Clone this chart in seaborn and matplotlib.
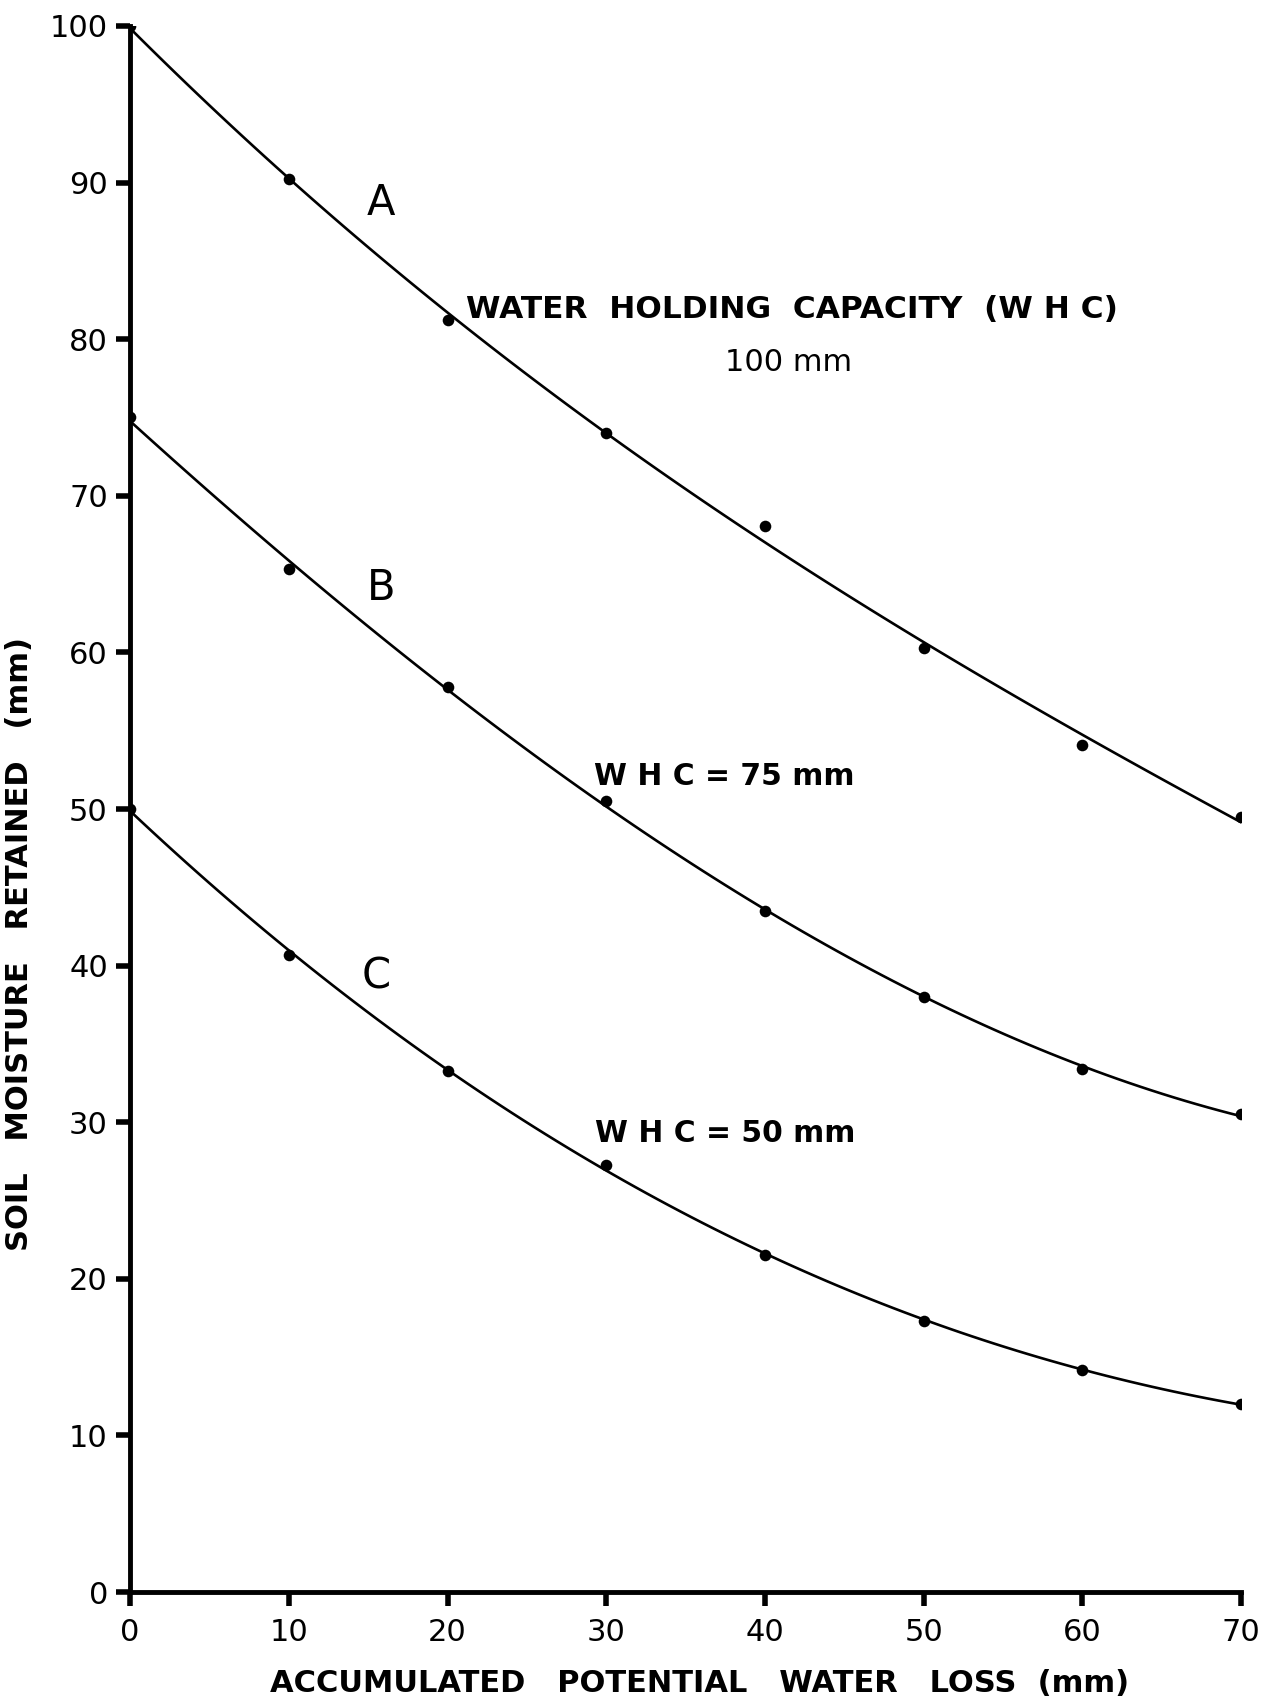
import numpy as np
import pandas as pd
import matplotlib
matplotlib.use("Agg")
import matplotlib.pyplot as plt
import seaborn as sns

# Accumulated potential water loss (mm)
apwl = [0, 10, 20, 30, 40, 50, 60, 70]

# Soil moisture retained (mm) for three water holding capacities
whc_100 = [100.0, 90.2, 81.2, 74.0, 68.1, 60.3, 54.1, 49.5]
whc_75 = [75.0, 65.3, 57.8, 50.5, 43.5, 38.0, 33.4, 30.5]
whc_50 = [50.0, 40.7, 33.3, 27.3, 21.5, 17.3, 14.2, 12.0]

curve_names = ["A", "B", "C"]
x_ticks = [0, 10, 20, 30, 40, 50, 60, 70]
y_ticks = [0, 10, 20, 30, 40, 50, 60, 70, 80, 90, 100]

df = pd.DataFrame({
    "loss": apwl * 3,
    "moisture": whc_100 + whc_75 + whc_50,
    "curve": [n for n in curve_names for _ in apwl],
})

sns.set_style("ticks")
plt.rcParams["font.family"] = ["DejaVu Sans"]
plt.rcParams["text.color"] = "black"
plt.rcParams["xtick.color"] = "black"
plt.rcParams["ytick.color"] = "black"
plt.rcParams["axes.labelcolor"] = "black"

fig = plt.figure(figsize=(12.76, 16.98), dpi=100)
ax = fig.add_axes([0.102, 0.0624, 0.8706, 0.9223])

for name in curve_names:
    sub = df[df["curve"] == name]
    sns.regplot(data=sub, x="loss", y="moisture", order=3, ci=None, ax=ax,
                scatter_kws=dict(s=70, color="black", alpha=1, linewidths=0,
                                 zorder=3),
                line_kws=dict(color="black", lw=1.9))

ax.set_xlim(0, 70)
ax.set_ylim(0, 100)
ax.set_xticks(x_ticks)
ax.set_yticks(y_ticks)
ax.set_xticklabels([str(v) for v in x_ticks], fontsize=22)
ax.set_yticklabels([str(v) for v in y_ticks], fontsize=22)
ax.tick_params(axis="both", which="major", length=10, width=4, color="black",
               direction="out", pad=6)
ax.tick_params(axis="x", pad=9)

for side in ["top", "right"]:
    ax.spines[side].set_visible(False)
for side in ["left", "bottom"]:
    ax.spines[side].set_linewidth(3.5)
    ax.spines[side].set_color("black")

ax.set_xlabel("ACCUMULATED   POTENTIAL   WATER   LOSS  (mm)", fontsize=22,
              fontweight="bold", va="top")
ax.set_ylabel("SOIL   MOISTURE   RETAINED   (mm)", fontsize=22,
              fontweight="bold", va="bottom")
ax.xaxis.set_label_coords(0.513, -0.049)
ax.yaxis.set_label_coords(-0.0865, 0.414)

# Curve labels
ax.text(15.8, 88.7, "A", fontsize=30, ha="center", va="center")
ax.text(15.8, 64.1, "B", fontsize=30, ha="center", va="center")
ax.text(15.5, 39.3, "C", fontsize=30, ha="center", va="center")

# Annotations
ax.text(41.7, 81.9, "WATER  HOLDING  CAPACITY  (W H C)", fontsize=22.5,
        fontweight="bold", ha="center", va="center")
ax.text(41.5, 78.5, "100 mm", fontsize=22, ha="center", va="center")
ax.text(29.2, 52.1, "W H C = 75 mm", fontsize=21.5, fontweight="bold",
        ha="left", va="center")
ax.text(29.3, 29.3, "W H C = 50 mm", fontsize=21.5, fontweight="bold",
        ha="left", va="center")

fig.savefig("out.png", dpi=100, facecolor="white")
